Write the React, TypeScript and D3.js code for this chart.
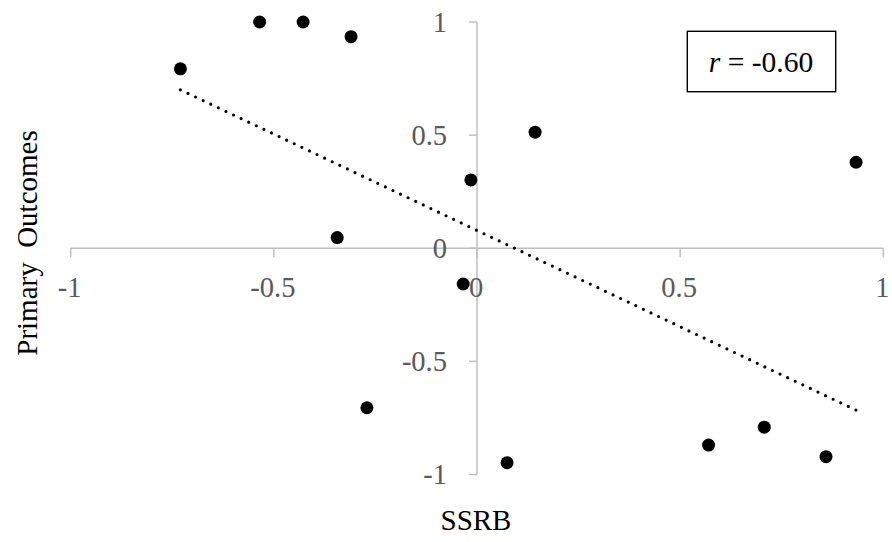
import React from "react";
import * as d3 from "d3";

// SSRB (x) vs primary outcomes (y) for each study
const ssrb = [-0.73, -0.535, -0.428, -0.31, -0.344, -0.015, 0.143, 0.933, -0.271, -0.034, 0.074, 0.57, 0.707, 0.859];
const outcomes = [0.793, 1.0, 1.0, 0.935, 0.047, 0.302, 0.513, 0.38, -0.705, -0.158, -0.948, -0.87, -0.791, -0.921];
const xTicks = [-1, -0.5, 0, 0.5, 1];
const yTicks = [-1, -0.5, 0, 0.5, 1];
const xTickLabels = ["-1", "-0.5", "0", "0.5", "1"];
const yTickLabels = ["-1", "-0.5", "0", "0.5", "1"];
const rLabel = "-0.60";

const W = 892;
const H = 542;
const FONT = "Liberation Serif, Times New Roman, serif";

export default function App() {
  const x = d3.scaleLinear().domain([-1, 1]).range([70.7, 883.3]);
  const y = d3.scaleLinear().domain([-1, 1]).range([474.5, 22]);

  // Least-squares trend line across the data range
  const mx = d3.mean(ssrb)!;
  const my = d3.mean(outcomes)!;
  let sxy = 0;
  let sxx = 0;
  ssrb.forEach((v, i) => {
    sxy += (v - mx) * (outcomes[i] - my);
    sxx += (v - mx) * (v - mx);
  });
  const slope = sxy / sxx;
  const intercept = my - slope * mx;
  const [xMin, xMax] = d3.extent(ssrb) as [number, number];
  const trend: [number, number][] = [
    [xMin, intercept + slope * xMin],
    [xMax, intercept + slope * xMax],
  ];
  const line = d3
    .line<[number, number]>()
    .x((d) => x(d[0]))
    .y((d) => y(d[1]));

  const axisColor = "#bfbfbf";
  const labelColor = "#595959";
  const x0 = x(0);
  const y0 = y(0);
  const txt = { fontFamily: FONT };

  return (
    <svg
      width={W}
      height={H}
      style={{ position: "absolute", left: 0, top: 0, background: "#fff" }}
    >
      {/* axes */}
      <line x1={x(-1)} x2={x(1)} y1={y0} y2={y0} stroke={axisColor} strokeWidth={1.5} />
      <line x1={x0} x2={x0} y1={y(1)} y2={y(-1)} stroke={axisColor} strokeWidth={1.5} />
      {xTicks.map((t) => (
        <line key={"xt" + t} x1={x(t)} x2={x(t)} y1={y0} y2={y0 + 9} stroke={axisColor} strokeWidth={1.5} />
      ))}
      {yTicks.map((t) => (
        <line key={"yt" + t} x1={x0 - 8} x2={x0} y1={y(t)} y2={y(t)} stroke={axisColor} strokeWidth={1.5} />
      ))}

      {/* tick labels */}
      {xTicks.map((t, i) => (
        <text key={"xl" + t} x={x(t) - 1} y={y0 + 48.5} textAnchor="middle" fontSize={28.5} fill={labelColor} style={txt}>
          {xTickLabels[i]}
        </text>
      ))}
      {yTicks.map((t, i) => (
        <text key={"yl" + t} x={447} y={y(t) + 9.5} textAnchor="end" fontSize={28.5} fill={labelColor} style={txt}>
          {yTickLabels[i]}
        </text>
      ))}

      {/* trend line */}
      <path
        d={line(trend) || ""}
        fill="none"
        stroke="#000"
        strokeWidth={3.2}
        strokeLinecap="round"
        strokeDasharray="0 8.4"
      />

      {/* points */}
      {ssrb.map((v, i) => (
        <circle key={"p" + i} cx={x(v)} cy={y(outcomes[i])} r={6.5} fill="#000" />
      ))}

      {/* correlation box */}
      <rect x={687.3} y={31.3} width={148.4} height={60.4} fill="#fff" stroke="#000" strokeWidth={1.4} />
      <text x={761} y={71.5} textAnchor="middle" fontSize={29.5} fill="#000" style={txt}>
        <tspan fontStyle="italic" style={txt}>r</tspan>
        <tspan style={{ ...txt, whiteSpace: "pre" }}>{" = " + rLabel}</tspan>
      </text>

      {/* axis titles */}
      <text x={476} y={530} textAnchor="middle" fontSize={29} fill="#000" style={txt}>
        SSRB
      </text>
      <text
        transform={`translate(36.5, 243) rotate(-90)`}
        textAnchor="middle"
        fontSize={29}
        fill="#000"
        style={{ ...txt, whiteSpace: "pre" }}
      >
        {"Primary  Outcomes"}
      </text>
    </svg>
  );
}
